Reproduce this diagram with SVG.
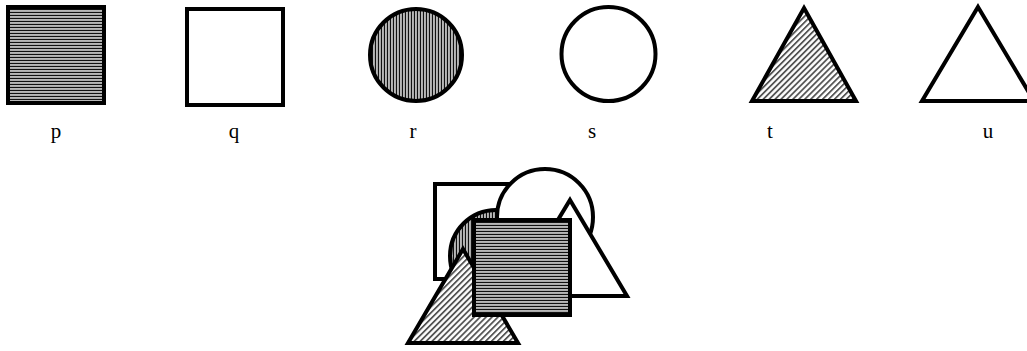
<svg xmlns="http://www.w3.org/2000/svg" width="1027" height="351" viewBox="0 0 1027 351">
<defs>
<pattern id="hp" width="4" height="3" patternUnits="userSpaceOnUse">
<rect width="4" height="3" fill="#fff"/>
<rect y="0" width="4" height="1.3" fill="#111"/>
<rect y="2" width="4" height="1" fill="#aaa"/>
</pattern>
<pattern id="vp" width="3" height="4" patternUnits="userSpaceOnUse">
<rect width="3" height="4" fill="#fff"/>
<rect x="0" width="1.3" height="4" fill="#111"/>
<rect x="2" width="1" height="4" fill="#aaa"/>
</pattern>
<pattern id="dp" width="4.2" height="4.2" patternUnits="userSpaceOnUse" patternTransform="rotate(45)">
<rect width="4.2" height="4.2" fill="#fff"/>
<rect x="0" width="1.8" height="4.2" fill="#555"/>
</pattern>
<style>
.s{stroke:#000;stroke-width:4;stroke-linejoin:miter}
.w{fill:#fff}
.h{fill:url(#hp)}
.v{fill:url(#vp)}
.d{fill:url(#dp)}
text{font-family:"Liberation Serif","Times New Roman",serif;font-size:21px;fill:#000;text-anchor:middle}
</style>
</defs>
<rect width="1027" height="351" fill="#fff"/>
<g id="p"><rect class="s h" x="8" y="7" width="96" height="96"/><text x="56" y="138">p</text></g>
<g id="q"><rect class="s w" x="187" y="9" width="96" height="96"/><text x="234" y="138">q</text></g>
<g id="r"><circle class="s v" cx="416" cy="55" r="46"/><text x="413" y="138">r</text></g>
<g id="s"><circle class="s w" cx="608.5" cy="54" r="47"/><text x="592" y="138">s</text></g>
<g id="t"><polygon class="s d" points="804,8 856,101 752,101"/><text x="770" y="138">t</text></g>
<g id="u"><polygon class="s w" points="978,7 1034,101 922,101"/><text x="988" y="138">u</text></g>
<g id="combined">
<rect class="s w" x="435" y="184" width="96" height="95"/>
<circle class="s v" cx="496" cy="256" r="46"/>
<circle class="s w" cx="545" cy="217" r="48"/>
<polygon class="s w" points="570,200 627,296 512,296"/>
<polygon class="s d" points="463,249 518,343 408,343"/>
<rect class="s h" x="474" y="220" width="96" height="95"/>
</g>
<g id="connectors"/>
</svg>
